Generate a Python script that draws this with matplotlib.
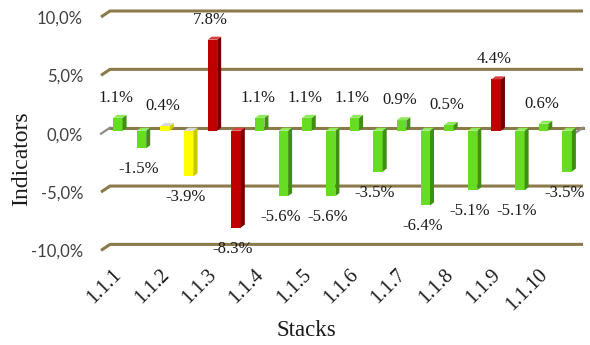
import matplotlib
matplotlib.use("Agg")
import matplotlib.pyplot as plt
from matplotlib.patches import Polygon
from matplotlib.transforms import ScaledTranslation
import numpy as np

# ---- data -------------------------------------------------------------
stacks = ["1.1.1", "1.1.2", "1.1.3", "1.1.4", "1.1.5",
          "1.1.6", "1.1.7", "1.1.8", "1.1.9", "1.1.10"]
gains = [1.1, 0.4, 7.8, 1.1, 1.1, 1.1, 0.9, 0.5, 4.4, 0.6]
losses = [-1.5, -3.9, -8.3, -5.6, -5.6, -3.5, -6.4, -5.1, -5.1, -3.5]
gain_colors = ["green", "yellow", "red", "green", "green",
               "green", "green", "green", "red", "green"]
loss_colors = ["green", "yellow", "red", "green", "green",
               "green", "green", "green", "green", "green"]
y_ticks = [-10, -5, 0, 5, 10]
y_tick_labels = ["-10,0%", "-5,0%", "0,0%", "5,0%", "10,0%"]

# front / side / top shades for each bar colour
palette = {
    "green": ("#66dd22", "#3f8f12", "#8fe85a"),
    "yellow": ("#ffff00", "#c9c900", "#d8d8d8"),
    "red": ("#c00000", "#720000", "#d84040"),
}
grid_color = "#8b7b4a"
floor_color = "#8c8c8c"

DPI = 100
fig = plt.figure(figsize=(5.9, 3.45), dpi=DPI)
W, H = 590, 345
ax = fig.add_axes([110 / W, (H - 244.4) / H, 473 / W, 233.4 / H])
ax.set_xlim(-0.5, len(stacks) - 0.5)
ax.set_ylim(-10, 10)
for s in ax.spines.values():
    s.set_visible(False)
ax.set_facecolor("none")

# pixel size of one data unit along each axis
ppx = ax.transData.transform((1, 0))[0] - ax.transData.transform((0, 0))[0]
ppy = ax.transData.transform((0, 1))[1] - ax.transData.transform((0, 0))[1]

# gridlines on the back wall with a slanted front edge
fdx, fdy = 9 / ppx, 6 / ppy
x0, x1 = ax.get_xlim()
for yv in y_ticks:
    if yv == 0:
        continue
    ax.plot([x0 - fdx, x0, x1], [yv - fdy, yv, yv], color=grid_color,
            lw=2.2, solid_capstyle="butt", clip_on=False, zorder=1)
ax.plot([x0, x1], [0, 0], color=grid_color, lw=2.2, clip_on=False, zorder=1)
ax.plot([x0 - fdx, x0], [-fdy, 0], color=floor_color, lw=1.6,
        clip_on=False, zorder=1)
ax.plot([x1, x1 - fdx], [0, -fdy], color=floor_color, lw=1.6,
        clip_on=False, zorder=1)

# 3-D looking columns
bar_tr = ax.transData + ScaledTranslation(-4 / DPI, -3 / DPI, fig.dpi_scale_trans)
bw = 0.2
ddx, ddy = 4 / ppx, 3 / ppy
offset = 0.25
idx = np.arange(len(stacks))


def draw_column(xc, val, cname):
    front, side, top = palette[cname]
    xa, xb = xc - bw / 2, xc + bw / 2
    lo, hi = min(0, val), max(0, val)
    ax.bar([xc], [val], width=bw, color=front, transform=bar_tr,
           zorder=3, linewidth=0)
    ax.add_patch(Polygon([(xb, lo), (xb, hi), (xb + ddx, hi + ddy),
                          (xb + ddx, lo + ddy)], closed=True,
                         facecolor=side, edgecolor="none",
                         transform=bar_tr, zorder=3, clip_on=False))
    ax.add_patch(Polygon([(xa, hi), (xb, hi), (xb + ddx, hi + ddy),
                          (xa + ddx, hi + ddy)], closed=True,
                         facecolor=top, edgecolor="none",
                         transform=bar_tr, zorder=3, clip_on=False))


for i in idx:
    draw_column(i - offset, gains[i], gain_colors[i])
    draw_column(i + offset, losses[i], loss_colors[i])

# value labels
label_font = dict(family="Liberation Serif", size=12, color="#1a1a1a")
for i in idx:
    ax.annotate(f"{gains[i]:.1f}%", (i - offset, gains[i]), xycoords=bar_tr,
                xytext=(-2, 20), textcoords="offset pixels",
                ha="center", va="center", annotation_clip=False, **label_font)
    ax.annotate(f"{losses[i]:.1f}%", (i + offset, losses[i]), xycoords=bar_tr,
                xytext=(-3, -21), textcoords="offset pixels",
                ha="center", va="center", annotation_clip=False, **label_font)

# y axis
ax.set_yticks(y_ticks)
ax.set_yticklabels(y_tick_labels, family="Lato", fontsize=12, color="#404040")
ax.tick_params(axis="y", length=0, pad=19.4)
for lab in ax.get_yticklabels():
    lab.set_transform(lab.get_transform()
                      + ScaledTranslation(0, -6 / DPI, fig.dpi_scale_trans))

# x axis
ax.set_xticks(idx - 0.45)
ax.set_xticklabels(stacks, family="Liberation Serif", fontsize=14.5,
                   color="#1a1a1a", rotation=45, ha="right", va="top",
                   rotation_mode="anchor")
ax.tick_params(axis="x", length=0, pad=15)

fig.text(22 / W, 1 - 159 / H, "Indicators", rotation=90, ha="center",
         va="center", family="Liberation Serif", fontsize=17, color="#1a1a1a")
fig.text(306 / W, 1 - 330 / H, "Stacks", ha="center", va="center",
         family="Liberation Serif", fontsize=16.5, color="#1a1a1a")

fig.savefig("out.png", dpi=DPI)
